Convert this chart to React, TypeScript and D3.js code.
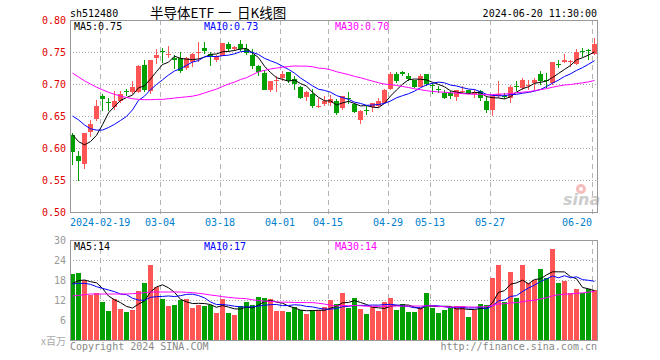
import React from 'react';
import * as d3 from 'd3';

const dates = [
  '02-02','02-05','02-06','02-07','02-08',
  '02-19','02-20','02-21','02-22','02-23',
  '02-26','02-27','02-28','02-29','03-01',
  '03-04','03-05','03-06','03-07','03-08',
  '03-11','03-12','03-13','03-14','03-15',
  '03-18','03-19','03-20','03-21','03-22',
  '03-25','03-26','03-27','03-28','03-29',
  '04-01','04-02','04-03',
  '04-08','04-09','04-10','04-11','04-12',
  '04-15','04-16','04-17','04-18','04-19',
  '04-22','04-23','04-24','04-25','04-26',
  '04-29','04-30',
  '05-06','05-07','05-08','05-09','05-10',
  '05-13','05-14','05-15','05-16','05-17',
  '05-20','05-21','05-22','05-23','05-24',
  '05-27','05-28','05-29','05-30','05-31',
  '06-03','06-04','06-05','06-06','06-07',
  '06-11','06-12','06-13','06-14',
  '06-17','06-18','06-19','06-20',
];

const opens = [
  0.621,0.588,0.575,0.625,0.645,0.681,0.6725,0.664,0.674,0.689,
  0.687,0.688,0.729,0.689,0.741,0.751,0.7455,0.741,0.741,0.725,
  0.735,0.7495,0.757,0.747,0.738,0.744,0.762,0.755,0.763,0.755,
  0.746,0.728,0.717,0.690,0.704,0.709,0.718,0.708,0.696,0.679,
  0.685,0.6635,0.668,0.670,0.673,0.662,0.6786,0.669,0.644,0.6589,
  0.664,0.665,0.671,0.692,0.715,0.718,0.713,0.707,0.696,0.715,
  0.699,0.6917,0.686,0.686,0.679,0.6891,0.690,0.685,0.689,0.674,
  0.660,0.682,0.6807,0.678,0.6966,0.694,0.6987,0.702,0.716,0.7068,
  0.702,0.7318,0.735,0.7352,0.731,0.7512,0.7528,0.747,
];
const highs = [
  0.623,0.596,0.624,0.644,0.675,0.684,0.678,0.689,0.689,0.692,
  0.705,0.729,0.738,0.738,0.754,0.757,0.759,0.746,0.750,0.742,
  0.748,0.766,0.765,0.750,0.746,0.764,0.766,0.759,0.769,0.763,
  0.754,0.730,0.722,0.705,0.713,0.720,0.719,0.712,0.697,0.689,
  0.692,0.678,0.681,0.683,0.676,0.682,0.687,0.671,0.660,0.665,
  0.671,0.678,0.692,0.718,0.718,0.721,0.717,0.707,0.715,0.715,
  0.702,0.697,0.691,0.689,0.690,0.697,0.691,0.690,0.691,0.681,
  0.683,0.704,0.686,0.699,0.704,0.709,0.707,0.709,0.721,0.717,
  0.734,0.738,0.747,0.738,0.754,0.756,0.755,0.772,
];
const lows = [
  0.574,0.548,0.567,0.617,0.642,0.658,0.658,0.660,0.671,0.682,
  0.685,0.686,0.688,0.685,0.731,0.733,0.740,0.724,0.717,0.722,
  0.727,0.735,0.747,0.728,0.735,0.743,0.750,0.751,0.751,0.746,
  0.724,0.712,0.690,0.688,0.688,0.704,0.702,0.690,0.677,0.673,
  0.662,0.662,0.666,0.666,0.651,0.659,0.668,0.655,0.637,0.651,
  0.656,0.662,0.669,0.690,0.702,0.712,0.704,0.694,0.695,0.697,
  0.684,0.686,0.677,0.677,0.673,0.686,0.684,0.678,0.673,0.655,
  0.650,0.678,0.676,0.670,0.689,0.691,0.691,0.691,0.699,0.694,
  0.699,0.725,0.733,0.726,0.730,0.742,0.738,0.746,
];
const closes = [
  0.593,0.579,0.624,0.638,0.665,0.676,0.6715,0.674,0.685,0.688,
  0.695,0.728,0.690,0.738,0.746,0.750,0.7462,0.737,0.721,0.740,
  0.747,0.7505,0.751,0.743,0.743,0.764,0.754,0.758,0.754,0.748,
  0.728,0.718,0.691,0.705,0.707,0.715,0.704,0.700,0.678,0.687,
  0.666,0.665,0.673,0.677,0.655,0.682,0.6776,0.656,0.658,0.6578,
  0.670,0.673,0.690,0.715,0.705,0.715,0.708,0.696,0.713,0.700,
  0.6965,0.6911,0.678,0.681,0.690,0.6896,0.686,0.688,0.678,0.660,
  0.681,0.684,0.680,0.696,0.696,0.707,0.6992,0.707,0.704,0.7062,
  0.734,0.7312,0.738,0.7354,0.750,0.7505,0.752,0.763,
];
const volumes = [
  19.9,20.2,18.0,13.5,14.2,11.5,8.8,12.3,9.3,8.5,
  9.0,14.7,17.2,22.6,16.0,12.3,10.2,10.5,12.0,12.3,
  9.7,10.5,10.2,10.5,8.2,12.3,8.2,7.5,10.2,11.5,
  10.5,12.8,12.6,12.2,8.8,8.8,8.5,9.8,9.0,7.8,
  9.0,9.0,9.8,12.0,10.8,14.2,9.5,12.5,9.3,7.8,
  10.0,8.7,11.5,12.6,9.0,10.8,8.5,8.5,9.7,14.1,
  9.7,8.1,9.0,9.5,10.2,10.2,6.9,9.0,10.8,10.5,
  18.6,22.6,11.5,20.4,12.6,22.6,17.2,18.0,21.3,18.5,
  27.3,17.2,17.8,14.2,15.4,14.2,15.2,15.0,
];

const ma5Head = [0.621, 0.610, 0.605, 0.610];
const ma10Head = [0.650, 0.644, 0.636, 0.630, 0.628, 0.628, 0.632, 0.637, 0.643];
const ma30Head = [
  0.717,0.711,0.705,0.700,0.695,0.691,0.687,0.684,0.681,0.679,
  0.677,0.676,0.6755,0.6755,0.676,0.676,0.677,0.678,0.679,0.680,
  0.681,0.683,0.686,0.689,0.692,0.696,0.700,0.703,0.707,
];
const vma5Head = [17.0, 17.8, 18.0, 17.5];
const vma10Head = [16.8, 17.0, 17.0, 16.7, 16.0, 15.5, 15.0, 14.5, 13.8];
const vma30Head = [
  13.2,13.4,13.6,13.8,13.8,13.8,13.8,13.8,13.8,13.8,
  13.9,14.0,14.2,14.4,14.4,14.4,14.4,14.4,14.4,14.3,
  14.2,14.0,13.8,13.5,13.3,13.0,12.8,12.6,12.5,
];

const priceTicks = [0.5, 0.55, 0.6, 0.65, 0.7, 0.75, 0.8];
const volTicks = [6, 12, 18, 24, 30];
const xTickDates = ['02-19','03-04','03-18','04-01','04-15','04-29','05-13','05-27','06-20'];
const xTickLabels = ['2024-02-19','03-04','03-18','04-01','04-15','04-29','05-13','05-27','06-20'];
const titleParts = ['半导体ETF', '一', '日K线图'];
const priceMaLabels = ['MA5:0.75', 'MA10:0.73', 'MA30:0.70'];
const volMaLabels = ['MA5:14', 'MA10:17', 'MA30:14'];
const maColors = ['#000000', '#0000ff', '#ff00ff'];

const W = 660, H = 360;
const L = 70, R = 597, T1 = 20, B1 = 212, T2 = 240, B2 = 340;
const RED = '#ff5555', GREEN = '#00a000';
const MONO = '"DejaVu Sans Mono", "Liberation Mono", monospace';
const CJK = '"Noto Sans CJK SC", sans-serif';

function movingAvg(values: number[], n: number, head: number[]): number[] {
  return values.map((_, i) =>
    i < head.length ? head[i] : (d3.mean(values.slice(i - n + 1, i + 1)) as number)
  );
}

export default function App() {
  const x = d3.scaleBand<string>().domain(dates)
    .range([L, L + 6 * dates.length - 1]).paddingInner(1 / 6).paddingOuter(0);
  const bw = x.bandwidth();
  const cx = (i: number) => (x(dates[i]) as number) + 2.5;
  const yP = d3.scaleLinear().domain([0.5, 0.8]).range([B1, T1]);
  const yV = d3.scaleLinear().domain([0, 30]).range([B2, T2]);

  const pMAs = [movingAvg(closes, 5, ma5Head), movingAvg(closes, 10, ma10Head), movingAvg(closes, 30, ma30Head)];
  const vMAs = [movingAvg(volumes, 5, vma5Head), movingAvg(volumes, 10, vma10Head), movingAvg(volumes, 30, vma30Head)];

  const lineP = d3.line<number>().x((_, i) => cx(i)).y((d) => yP(d));
  const lineV = d3.line<number>().x((_, i) => cx(i)).y((d) => yV(d));

  const up = (i: number) => closes[i] >= opens[i];

  return (
    <svg width={W} height={H} style={{ position: 'absolute', left: 0, top: 0, background: '#fff' }}
      fontFamily={MONO} fontSize={10}>
      <rect x={0} y={0} width={W} height={H} fill="#fff" />
      {/* header */}
      <text x={70} y={17} fill="#000">sh512480</text>
      {titleParts.map((s, i) => (
        <text key={'t' + i} x={[150, 218, 237][i]} y={17.5} fontFamily={CJK} fontSize={13.5} fill="#000">{s}</text>
      ))}
      <text x={597} y={17} textAnchor="end" fill="#000">2024-06-20 11:30:00</text>

      {/* price grid */}
      {priceTicks.slice(1, -1).map((t) => (
        <line key={'pg' + t} x1={L} x2={R} y1={Math.round(yP(t)) + 0.5} y2={Math.round(yP(t)) + 0.5}
          stroke="#aaa" strokeDasharray="1,2" />
      ))}
      {xTickDates.map((d) => (
        <g key={'vg' + d}>
          <line x1={(x(d) as number) + 0.5} x2={(x(d) as number) + 0.5} y1={T1} y2={B1 + 3}
            stroke="#b4b4b4" strokeDasharray="5,4" />
          <line x1={(x(d) as number) + 0.5} x2={(x(d) as number) + 0.5} y1={T2} y2={B2}
            stroke="#b4b4b4" strokeDasharray="5,4" />
        </g>
      ))}
      {/* volume grid */}
      {volTicks.slice(0, -1).map((t) => (
        <line key={'vgr' + t} x1={L} x2={R} y1={Math.round(yV(t)) + 0.5} y2={Math.round(yV(t)) + 0.5}
          stroke="#aaa" strokeDasharray="1,2" />
      ))}

      {/* price axis labels */}
      {priceTicks.map((t) => (
        <text key={'pl' + t} x={66} y={yP(t) + 4} textAnchor="end" fill="#e00000">{t.toFixed(2)}</text>
      ))}
      {/* x labels */}
      {xTickDates.map((d, i) => (
        <text key={'xl' + d} x={i === 0 ? L : (x(d) as number)}
          y={226} fill="#0080cc"
          textAnchor={i === 0 ? 'start' : i === xTickDates.length - 1 ? 'end' : 'middle'}>{xTickLabels[i]}</text>
      ))}
      {/* volume axis labels */}
      {volTicks.map((t) => (
        <text key={'vl' + t} x={66} y={yV(t) + 4} textAnchor="end" fill="#999">{t}</text>
      ))}
      <text x={66} y={345} textAnchor="end" fill="#aaa" fontFamily={CJK} fontSize={10}>x百万</text>

      {/* watermark */}
      <g opacity={0.9}>
        <circle cx={581} cy={189} r={5} fill="#f6b5b5" />
        <circle cx={581} cy={189} r={2} fill="#fff" />
        <text x={563} y={205} fontFamily='"DejaVu Sans", sans-serif' fontStyle="italic" fontWeight="bold"
          fontSize={16} fill="#c8c8c8">sina</text>
      </g>

      {/* candles */}
      {dates.map((d, i) => {
        const x0 = x(d) as number;
        const col = up(i) ? RED : GREEN;
        const top = Math.round(yP(Math.max(opens[i], closes[i])));
        const bot = Math.round(yP(Math.min(opens[i], closes[i])));
        return (
          <g key={'c' + d}>
            <line x1={x0 + 2.5} x2={x0 + 2.5} y1={Math.round(yP(highs[i]))} y2={Math.round(yP(lows[i]))} stroke={col} />
            <rect x={x0} y={top} width={bw} height={Math.max(1, bot - top)} fill={col} />
          </g>
        );
      })}
      {pMAs.map((m, k) => (
        <path key={'pma' + k} d={lineP(m) as string} fill="none" stroke={maColors[k]} strokeWidth={1} />
      ))}

      {/* volume bars */}
      {dates.map((d, i) => {
        const x0 = x(d) as number;
        const top = Math.round(yV(volumes[i]));
        return <rect key={'v' + d} x={x0} y={top} width={bw} height={B2 - top} fill={up(i) ? RED : GREEN} />;
      })}
      {vMAs.map((m, k) => (
        <path key={'vma' + k} d={lineV(m) as string} fill="none" stroke={maColors[k]} strokeWidth={1} />
      ))}

      {/* frames */}
      <rect x={L + 0.5} y={T1 + 0.5} width={R - L} height={B1 - T1} fill="none" stroke="#999" />
      <rect x={L + 0.5} y={T2 + 0.5} width={R - L} height={B2 - T2} fill="none" stroke="#999" />

      {/* MA legends */}
      {priceMaLabels.map((s, k) => (
        <text key={'pml' + k} x={[74, 204, 335][k]} y={29.5} fill={maColors[k]}>{s}</text>
      ))}
      {volMaLabels.map((s, k) => (
        <text key={'vml' + k} x={[74, 204, 335][k]} y={249.5} fill={maColors[k]}>{s}</text>
      ))}

      {/* footer */}
      <text x={70} y={350} fill="#888">Copyright 2024 SINA.COM</text>
      <text x={597} y={350} textAnchor="end" fill="#888">http://finance.sina.com.cn</text>
    </svg>
  );
}
